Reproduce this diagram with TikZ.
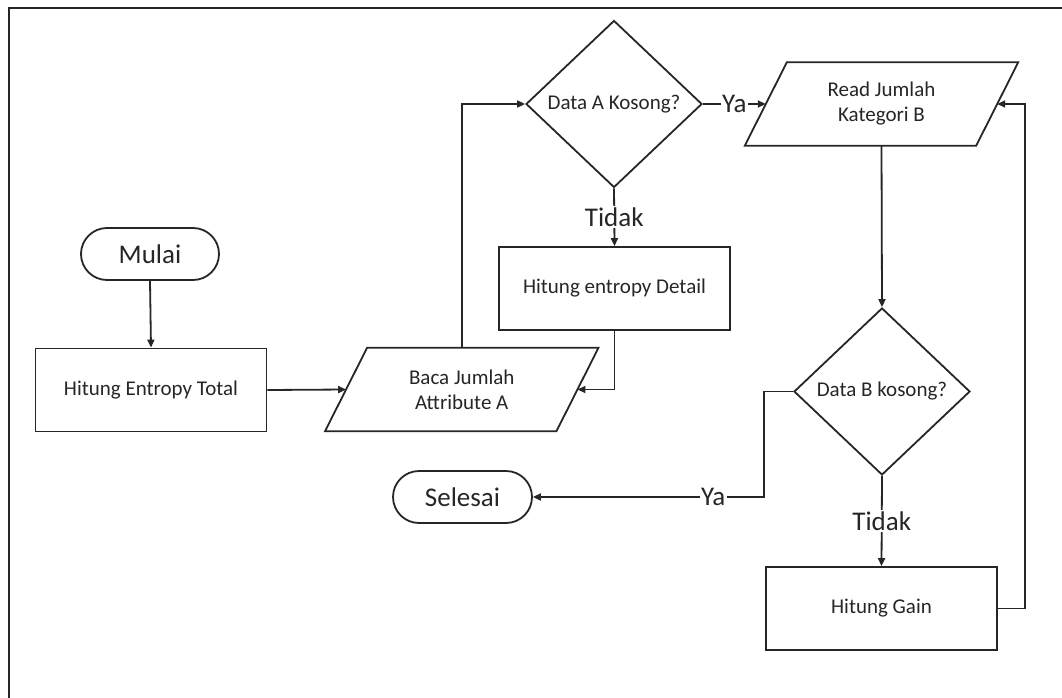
\documentclass[tikz,border=0pt]{standalone}
\usepackage{fontspec}
\setmainfont{Carlito}
\usetikzlibrary{shapes.geometric,arrows.meta,calc}
\definecolor{ink}{HTML}{262626}
\begin{document}
\begin{tikzpicture}[x=1pt,y=-1pt,
  every node/.style={text=ink},
  line/.style={draw=ink,line width=1.8pt},
  arr/.style={line,-{Triangle[length=8pt,width=7pt]}},
  boxtext/.style={font=\fontsize{21}{25}\selectfont,align=center},
  bigtext/.style={font=\fontsize{27}{30}\selectfont},
  procbox/.style={line,rectangle,boxtext,inner sep=0pt,minimum width=231pt,minimum height=83pt},
  iobox/.style={rectangle,boxtext,inner sep=0pt,minimum width=231pt,minimum height=83pt},
  termbox/.style={line,rectangle,rounded corners=26pt,bigtext,inner sep=0pt,minimum width=138pt,minimum height=52pt},
  decision/.style={line,diamond,boxtext,inner sep=0pt,aspect=1.05,minimum width=176pt,minimum height=167pt},
  lbl/.style={fill=white,bigtext,inner sep=1.5pt}]
\useasboundingbox (0,0) rectangle (1062,698);
% page frame (top and left edges)
\draw[draw=ink,line width=2.2pt] (9,698) -- (9,8) -- (1062,8);

% nodes
\node[termbox] (mulai) at (150,254) {Mulai};
\node[procbox] (het) at (151,390) {Hitung Entropy Total};
\node[iobox] (baca) at (461.75,389.5) {Baca Jumlah\\Attribute A};
\node[decision] (diaA) at (614,104) {Data A Kosong?};
\node[iobox] (readB) at (881.5,104) {Read Jumlah\\Kategori B};
\node[procbox] (hed) at (614.5,288.5) {Hitung entropy Detail};
\node[decision] (diaB) at (882,391.5) {Data B kosong?};
\node[termbox,minimum width=139pt] (selesai) at (462.5,497) {Selesai};
\node[procbox] (gain) at (881.5,608.5) {Hitung Gain};

% parallelogram outlines for the input nodes
\foreach \n in {baca,readB}{
  \draw[line] ($(\n.north west)+(21,0)$) -- ($(\n.north east)+(21,0)$)
    -- ($(\n.south east)+(-21,0)$) -- ($(\n.south west)+(-21,0)$) -- cycle;
}

% connectors
\coordinate (yb) at (764,497);
\draw[arr] (mulai.south) -- (het.north);
\draw[arr] (het.east) -- (baca.west);
\draw[arr] (baca.north) |- (diaA.west);
\draw[arr] (diaA.east) -- node[lbl]{Ya} (readB.west);
\draw[arr] (diaA.south) -- node[lbl]{Tidak} (hed.north);
\draw[arr] (hed.south) |- (baca.east);
\draw[arr] (readB.south) -- (diaB.north);
\draw[arr] (diaB.west) -| (yb) -- node[lbl,pos=0.22]{Ya} (selesai.east);
\draw[arr] (diaB.south) -- node[lbl]{Tidak} (gain.north);
\draw[arr] (gain.east) -- ++(27,0) |- (readB.east);
\end{tikzpicture}
\end{document}
